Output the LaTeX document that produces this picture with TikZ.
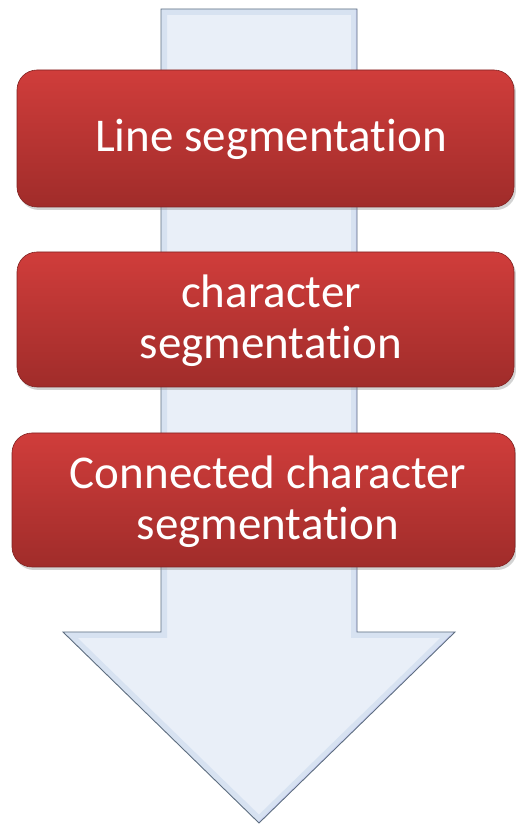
\documentclass[tikz,border=0pt]{standalone}
\usepackage{fontspec}
\setmainfont[Ligatures=NoCommon]{Carlito}
\usetikzlibrary{shadows}
\definecolor{boxtop}{HTML}{D03D3B}
\definecolor{boxbot}{HTML}{A02C2A}
\definecolor{arrowfill}{HTML}{E9EFF8}
\definecolor{arrowline}{HTML}{5E6E80}
\definecolor{bevel}{HTML}{C3D3EA}
\begin{document}
\begin{tikzpicture}[x=1pt,y=1pt,
  redbox/.style={rounded corners=20pt, top color=boxtop, bottom color=boxbot,
     draw=boxbot!80!black, line width=0.6pt,
     drop shadow={opacity=0.35, shadow xshift=2pt, shadow yshift=-3pt}},
  boxtext/.style={text=white, align=center, font=\fontsize{47}{51}\selectfont}]
\useasboundingbox (0,0) rectangle (516,825);
% big arrow
\coordinate (a1) at (161,816);
\coordinate (a2) at (357,816);
\coordinate (a3) at (357,193);
\coordinate (a4) at (455,193);
\coordinate (a5) at (259,2);
\coordinate (a6) at (63,193);
\coordinate (a7) at (161,193);
\fill[arrowfill] (a1) -- (a2) -- (a3) -- (a4) -- (a5) -- (a6) -- (a7) -- cycle;
\begin{scope}
  \clip (a1) -- (a2) -- (a3) -- (a4) -- (a5) -- (a6) -- (a7) -- cycle;
  \draw[bevel, line width=12pt, opacity=0.45, line join=miter]
     (a1) -- (a2) -- (a3) -- (a4) -- (a5) -- (a6) -- (a7) -- cycle;
  \draw[bevel!60!blue!40!white, line width=3pt, opacity=0.5, line join=miter]
     (a2) -- (a3) (a4) -- (a5);
\end{scope}
\draw[arrowline, line width=0.9pt, line join=miter]
   (a1) -- (a2) -- (a3) -- (a4) -- (a5) -- (a6) -- (a7) -- cycle;
% boxes
\path[redbox] (17,618) rectangle (514,755);
\path[redbox] (17,438) rectangle (514,573);
\path[redbox] (12,258) rectangle (515,392);
\node[boxtext] (t1) at (271,686) {Line segmentation};
\node[boxtext] (t2) at (271,504) {character\\segmentation};
\node[boxtext] (t3) at (268,323) {Connected character\\segmentation};
\end{tikzpicture}
\end{document}
